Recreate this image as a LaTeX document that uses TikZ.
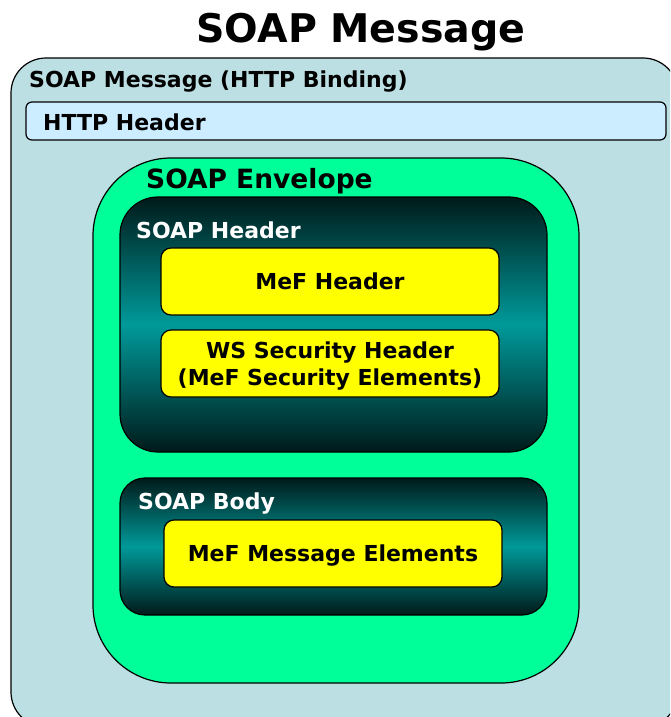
\documentclass[tikz,border=0pt]{standalone}
\usepackage{fontspec}
\setmainfont{DejaVu Sans}
\usetikzlibrary{positioning}
\definecolor{msgbg}{HTML}{BBDFE2}
\definecolor{httpbg}{HTML}{CCECFF}
\definecolor{envgreen}{HTML}{00FF99}
\definecolor{tealdark}{HTML}{001A1A}
\definecolor{tealmid}{HTML}{009999}
\definecolor{mefyellow}{HTML}{FFFF00}
\tikzset{
  box/.style={draw=black, line width=1.2pt, rectangle, inner sep=0pt, outer sep=0pt},
  partbox/.style={box, top color=tealdark, bottom color=tealdark, middle color=tealmid, rounded corners=#1},
  mefbox/.style={box, fill=mefyellow, rounded corners=10pt, minimum width=338pt, minimum height=67pt,
    align=center, text depth=0pt, font=\fontsize{22}{27}\selectfont\bfseries},
  lbl/.style={anchor=base west, inner sep=0pt, font=\fontsize{22}{26}\selectfont\bfseries},
}
\begin{document}
\begin{tikzpicture}[x=1pt, y=1pt]
  \useasboundingbox (0,0) rectangle (670,-717);
  \clip (0,0) rectangle (670,-717);
  \node at (361,-43) [anchor=base, inner sep=0pt, font=\fontsize{39.5}{42}\selectfont\bfseries] (title) {SOAP Message};

  % http binding
  \node[box, fill=msgbg, rounded corners=35pt, minimum width=667pt, minimum height=669pt] (msg) at (344.5,-392.5) {};
  \node[lbl] (msglbl) at (29,-88) {SOAP Message (HTTP Binding)};
  \node[box, fill=httpbg, rounded corners=6pt, minimum width=640pt, minimum height=38pt] (http) at (346,-121) {};
  \node[lbl] (httplbl) at (43,-130) {HTTP Header};

  % envelope
  \node[box, fill=envgreen, rounded corners=78pt, minimum width=486pt, minimum height=525pt] (env) at (336,-420.5) {};
  \node[lbl, font=\fontsize{26.5}{30}\selectfont\bfseries] (envlbl) at (146,-188) {SOAP Envelope};

  % soap header
  \node[partbox=38pt, minimum width=427pt, minimum height=255pt] (hdr) at (333.5,-324.5) {};
  \node[lbl, text=white] (hdrlbl) at (136,-238) {SOAP Header};
  \node[mefbox] (mefhdr) at (330,-281.5) {MeF Header};
  \node[mefbox, below=15pt of mefhdr] (wssec) {WS Security Header\\(MeF Security Elements)};

  % soap body
  \node[partbox=25pt, minimum width=427pt, minimum height=137pt] (body) at (333.5,-546.5) {};
  \node[lbl, text=white] (bodylbl) at (138,-509) {SOAP Body};
  \node[mefbox] (mefmsg) at (333,-553.5) {MeF Message Elements};
\end{tikzpicture}
\end{document}
